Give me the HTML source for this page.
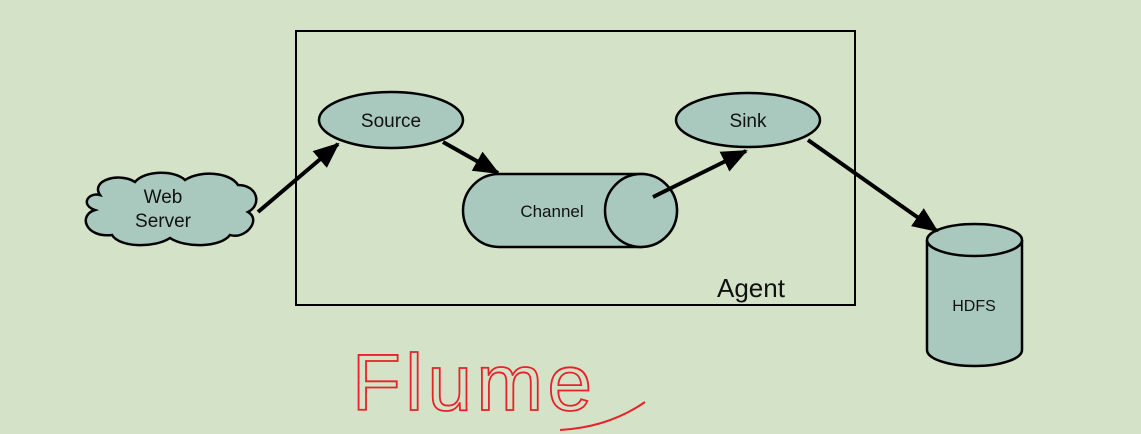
<!DOCTYPE html>
<html><head><style>
html,body{margin:0;padding:0;background:#d4e3c7;}
svg{display:block;}
text{font-family:"Liberation Sans",sans-serif;fill:#111;}
</style></head><body>
<svg width="1141" height="434" viewBox="0 0 1141 434">
<defs>
<marker id="b" markerWidth="26" markerHeight="22" refX="24" refY="11" orient="auto" markerUnits="userSpaceOnUse">
<path d="M0,0 L26,11 L0,22 z" fill="#000"/>
</marker>
</defs>
<rect x="296" y="31" width="559" height="274" fill="none" stroke="#000" stroke-width="2"/>
<text x="717" y="297" font-size="26">Agent</text>
<!-- cloud -->
<path d="M100,195 C90,180 120,172 135,182 C145,170 175,170 185,180 C200,170 230,172 238,185 C258,185 262,205 248,212 C262,220 245,240 230,235 C220,248 185,248 170,238 C155,248 120,248 112,235 C85,238 78,215 95,210 C80,205 88,192 100,195 z" fill="#a9c9bf" stroke="#000" stroke-width="2.5"/>
<text x="163" y="203" font-size="19" text-anchor="middle">Web</text>
<text x="163" y="227" font-size="19" text-anchor="middle">Server</text>
<!-- source -->
<ellipse cx="391" cy="120" rx="72" ry="28" fill="#a9c9bf" stroke="#000" stroke-width="2.5"/>
<text x="391" y="127" font-size="19" text-anchor="middle">Source</text>
<!-- sink -->
<ellipse cx="748" cy="120" rx="72" ry="27" fill="#a9c9bf" stroke="#000" stroke-width="2.5"/>
<text x="748" y="127" font-size="19" text-anchor="middle">Sink</text>
<!-- channel -->
<path d="M499,174 L641,174 A36,36.5 0 0 1 641,247 L499,247 A36,36.5 0 0 1 499,174 z" fill="#a9c9bf" stroke="#000" stroke-width="2.5"/>
<ellipse cx="641" cy="210.5" rx="36" ry="36.5" fill="#a9c9bf" stroke="#000" stroke-width="2.5"/>
<text x="552" y="217" font-size="17" text-anchor="middle">Channel</text>
<!-- HDFS -->
<path d="M927,240 L927,350 A47.5,16 0 0 0 1022,350 L1022,240" fill="#a9c9bf" stroke="#000" stroke-width="2.5"/>
<ellipse cx="974.5" cy="240" rx="47.5" ry="16" fill="#a9c9bf" stroke="#000" stroke-width="2.5"/>
<text x="974" y="311" font-size="16" text-anchor="middle">HDFS</text>
<!-- arrows -->
<g stroke="#000" stroke-width="4" fill="none">
<line x1="258" y1="212" x2="338" y2="144" marker-end="url(#b)"/>
<line x1="443" y1="142" x2="498" y2="173" marker-end="url(#b)"/>
<line x1="653" y1="197" x2="746" y2="151" marker-end="url(#b)"/>
<line x1="808" y1="140" x2="937" y2="231" marker-end="url(#b)"/>
</g>
<!-- handwritten Flume -->
<text x="352" y="410" font-size="80" fill="none" stroke="#e8222a" stroke-width="1.8" style="fill:none" textLength="240" lengthAdjust="spacing">Flume</text>
<path d="M560,430 C595,428 622,418 645,402" fill="none" stroke="#e8222a" stroke-width="2"/>
</svg>
</body></html>
